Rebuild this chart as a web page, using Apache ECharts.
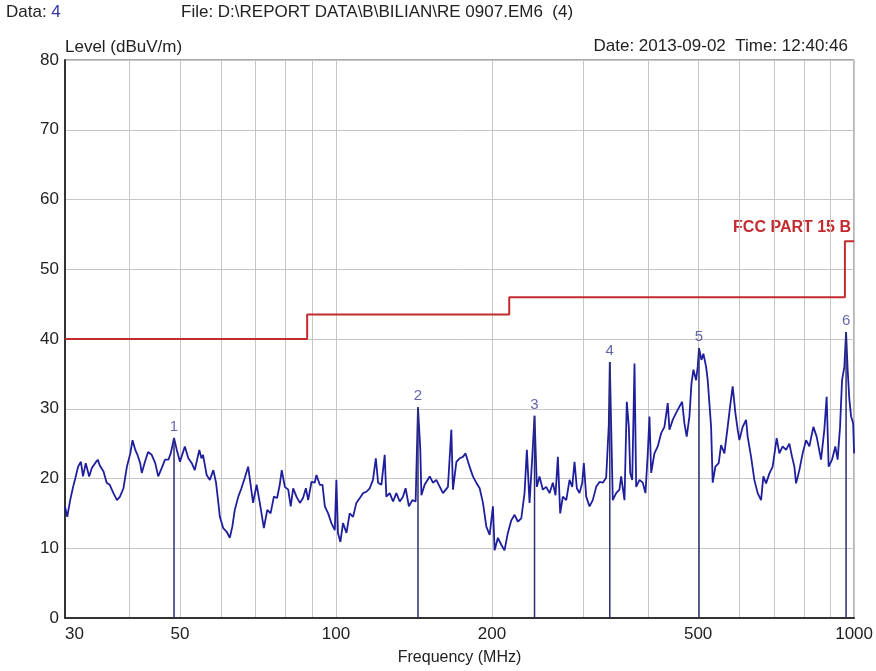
<!DOCTYPE html>
<html><head><meta charset="utf-8">
<script src="https://cdn.jsdelivr.net/npm/echarts@6/dist/echarts.min.js"></script>
<style>html,body{margin:0;padding:0;background:#fff}#c{width:876px;height:671px}</style>
</head><body><div id="c"></div>
<script>
// Measured trace (frequency in MHz, level in dBuV/m)
const traceFreq = [
30.0,30.3,30.7,31.1,31.4,31.8,32.2,32.5,32.9,33.4,
33.8,34.3,34.7,35.0,35.6,36.1,36.6,37.2,37.8,38.3,
38.9,39.5,40.1,40.5,41.0,41.4,41.9,42.2,42.8,43.4,
44.1,44.8,45.4,46.1,46.8,47.5,48.0,48.7,49.3,50.0,
50.6,51.1,51.9,52.7,53.4,54.5,55.0,55.4,56.3,57.1,
58.0,58.7,59.3,59.7,60.6,61.5,62.4,63.1,63.8,64.8,
65.7,66.7,67.7,69.2,70.3,71.3,72.6,73.7,74.8,75.9,
77.0,77.9,78.6,79.7,80.9,81.8,82.7,83.9,85.2,86.4,
87.5,88.4,89.7,91.0,91.7,93.1,94.2,95.2,96.6,98.0,
99.5,100.2,100.9,102.0,103.2,104.8,106.3,107.9,109.5,111.2,
112.8,114.5,116.2,117.9,119.4,120.6,122.4,124.2,125.1,127.0,
128.9,130.8,132.8,134.7,136.3,138.3,140.4,142.5,144.0,145.5,
146.2,148.3,151.7,153.9,156.2,160.9,164.5,167.0,168.2,170.8,
173.3,175.8,177.9,181.1,183.8,186.6,189.4,192.2,195.1,198.0,
200.9,202.4,205.4,208.5,211.5,214.7,218.0,221.2,224.5,227.9,
231.2,233.6,236.4,239.3,241.7,244.2,247.1,250.8,254.6,258.4,
262.2,265.3,268.1,270.9,274.1,278.3,282.4,285.8,288.7,291.7,
295.2,298.8,300.9,304.1,308.6,313.1,317.9,322.6,327.4,332.3,
336.2,337.7,342.2,347.4,352.5,355.2,360.5,364.2,367.5,369.8,
373.1,376.9,379.7,385.3,391.0,395.7,399.8,402.8,405.9,411.8,
417.9,424.3,430.5,436.9,440.2,446.7,453.5,460.2,465.7,470.5,
475.3,481.1,485.4,489.7,495.6,499.1,502,507.4,511.9,518.1,
521.8,525.7,529.7,533.5,539.9,547.9,553.7,561.9,570.2,576.3,
583.0,590.0,596.1,600.6,609.5,618.8,623.2,632.7,642.0,651.5,
661.4,668.2,676.3,686.2,696.4,708.9,717.4,728.0,739.1,750.0,
759.1,766.9,772.7,784.1,795.7,807.8,819.7,834.4,846.7,863.4,
876.2,885.2,893.1,906.7,920.0,929.5,939.5,947.9,957.6,965,
971.8,979.2,986.8,995.9,1000
];
const traceLevel = [
16.0,14.5,16.9,18.8,20.0,21.7,22.4,20.3,22.2,20.3,
21.5,22.2,22.7,21.9,21.0,19.4,19.1,17.9,16.9,17.4,
18.6,21.7,23.6,25.5,24.1,23.4,22.2,20.8,22.4,23.8,
23.4,22.2,20.3,21.5,22.7,22.7,23.6,25.8,24.1,22.4,
23.6,24.6,22.9,22.2,21.2,24.1,22.9,23.4,20.5,19.8,
21.2,19.4,16.5,14.5,12.9,12.4,11.5,13.1,15.5,17.4,
18.6,20.1,21.7,16.5,19.1,16.5,12.9,15.5,15.0,17.4,
17.2,19.1,21.2,18.8,18.4,16.0,18.6,17.4,16.5,17.2,
18.6,16.9,19.5,19.4,20.5,19.1,19.1,16.0,15.0,13.6,
12.6,19.8,12.2,10.9,13.6,12.2,15.0,14.5,16.5,17.2,
17.9,18.1,18.6,19.8,22.9,19.4,19.1,23.4,17.4,17.9,
16.7,17.9,16.7,17.4,18.6,16.0,16.9,16.7,30.2,24.1,
17.6,19.1,20.3,19.4,19.8,17.9,18.8,27.0,18.4,22.4,
22.9,23.1,23.6,21.7,20.3,19.4,18.6,16.5,13.1,11.9,
16.0,9.7,11.5,10.5,9.7,12.2,14.0,14.8,13.8,14.3,
17.9,24.1,16.5,23.1,29.0,18.8,20.3,18.4,18.8,17.9,
19.4,17.6,23.1,15.0,17.4,16.9,19.8,18.8,22.4,18.6,
17.9,19.4,22.2,17.4,16.0,16.9,18.8,19.5,19.4,20.1,
27.7,36.7,16.9,17.9,18.4,20.3,16.9,31.0,27.4,20.8,
19.8,36.5,18.8,19.8,19.4,17.9,23.6,28.9,20.8,23.6,
24.6,26.5,27.4,30.8,27.0,28.4,29.4,30.3,31.0,27.9,
26.0,28.9,33.6,35.6,34.1,36.0,38.7,37.0,37.9,36.0,
34.1,30.8,27.4,19.4,21.7,22.2,24.8,23.6,27.4,30.3,
33.2,29.4,27.0,25.5,27.4,28.4,26.0,23.1,19.8,17.9,
16.9,20.3,19.3,20.7,21.7,25.8,23.6,24.6,24.1,25.0,
23.1,21.7,19.3,21.2,23.6,25.5,24.6,27.4,26.0,22.7,
27.0,31.7,21.7,22.7,24.6,22.7,27.4,34.1,36.0,41.0,
35.6,31.3,28.9,27.9,23.6
];
// FCC Part 15 B limit (step)
const limitFreq = [30, 88, 88, 216, 216, 960, 960, 1000];
const limitLevel = [40, 40, 43.5, 43.5, 46, 46, 54, 54];
// Markers
const markerNames = ['1', '2', '3', '4', '5', '6'];
const markerFreq = [48.7, 144.0, 241.7, 337.7, 502, 965];
const markerLevel = [25.8, 30.2, 29.0, 36.7, 38.7, 41.0];
// Axis ticks
const xLabelValues = [30, 50, 100, 200, 500, 1000];
const xGridValues = [30, 40, 50, 60, 70, 80, 90, 100, 200, 300, 400, 500, 600, 700, 800, 900, 1000];
const yMin = 0, yMax = 80, yStep = 10;

const lg = v => Math.log10(v);
const FONT = 'Liberation Sans, Arial, sans-serif';
const chart = echarts.init(document.getElementById('c'), null, {renderer: 'canvas'});

const series = [];
series.push({
  name: 'trace', type: 'line', z: 3, symbol: 'none', animation: false,
  lineStyle: {color: '#1f1f9e', width: 1.8},
  data: traceFreq.map((f, i) => [lg(f), traceLevel[i]])
});
series.push({
  name: 'limit', type: 'line', z: 4, symbol: 'none', animation: false,
  lineStyle: {color: '#c42b2e', width: 2},
  data: limitFreq.map((f, i) => [lg(f), limitLevel[i]])
});
markerFreq.forEach((f, i) => {
  series.push({
    name: 'marker' + markerNames[i], type: 'line', z: 5, symbol: 'none', animation: false,
    lineStyle: {color: '#2d2d72', width: 1.5},
    data: [[lg(f), 0], [lg(f), markerLevel[i]]]
  });
});
series.push({
  name: 'markerLabels', type: 'scatter', z: 6, symbolSize: 1, animation: false,
  itemStyle: {color: 'rgba(0,0,0,0)'},
  label: {show: true, position: 'top', distance: 3, color: '#3f3f9a', fontSize: 15, fontFamily: FONT,
    formatter: p => markerNames[p.dataIndex]},
  data: markerFreq.map((f, i) => [lg(f), markerLevel[i]])
});

chart.setOption({
  backgroundColor: '#ffffff',
  animation: false,
  grid: {left: 65, right: 21, top: 60, bottom: 53, show: true, borderColor: '#555', borderWidth: 1},
  xAxis: {
    type: 'value', min: lg(30), max: 3,
    name: 'Frequency (MHz)', nameLocation: 'middle', nameGap: 32,
    nameTextStyle: {fontSize: 16, color: '#222', fontFamily: FONT},
    axisLine: {show: true, lineStyle: {color: '#333', width: 2}},
    axisTick: {show: false, customValues: xGridValues.map(lg)},
    splitLine: {show: true, lineStyle: {color: '#c6c6c6', width: 1}},
    axisLabel: {customValues: xLabelValues.map(lg), fontSize: 17, color: '#222', fontFamily: FONT, margin: 8,
      alignMinLabel: 'left', formatter: v => String(Math.round(Math.pow(10, v)))}
  },
  yAxis: {
    type: 'value', min: yMin, max: yMax, interval: yStep,
    name: 'Level (dBuV/m)', nameLocation: 'end', nameGap: 4,
    nameTextStyle: {fontSize: 17, color: '#222', fontFamily: FONT, align: 'left'},
    axisLine: {show: true, lineStyle: {color: '#333', width: 2}},
    axisTick: {show: false},
    splitLine: {show: true, lineStyle: {color: '#c6c6c6', width: 1}},
    axisLabel: {fontSize: 17, color: '#222', fontFamily: FONT, margin: 6}
  },
  graphic: [
    {type: 'text', left: 6, top: 4, style: {text: '{a|Data: }{b|4}', rich: {
      a: {fontSize: 17, fill: '#222', fontFamily: FONT}, b: {fontSize: 17, fill: '#3535a5', fontFamily: FONT}}}},
    {type: 'text', left: 181, top: 4, style: {text: 'File: D:\\REPORT DATA\\B\\BILIAN\\RE 0907.EM6  (4)', fontSize: 17, fill: '#222', fontFamily: FONT}},
    {type: 'text', right: 28, top: 38, style: {text: 'Date: 2013-09-02  Time: 12:40:46', fontSize: 17, fill: '#222', fontFamily: FONT}},
    {type: 'text', right: 25, top: 220, style: {text: 'FCC PART 15 B', fontSize: 16, fontWeight: 'bold', fill: '#c42b2e', fontFamily: FONT}}
  ],
  series: series
});
</script></body></html>
